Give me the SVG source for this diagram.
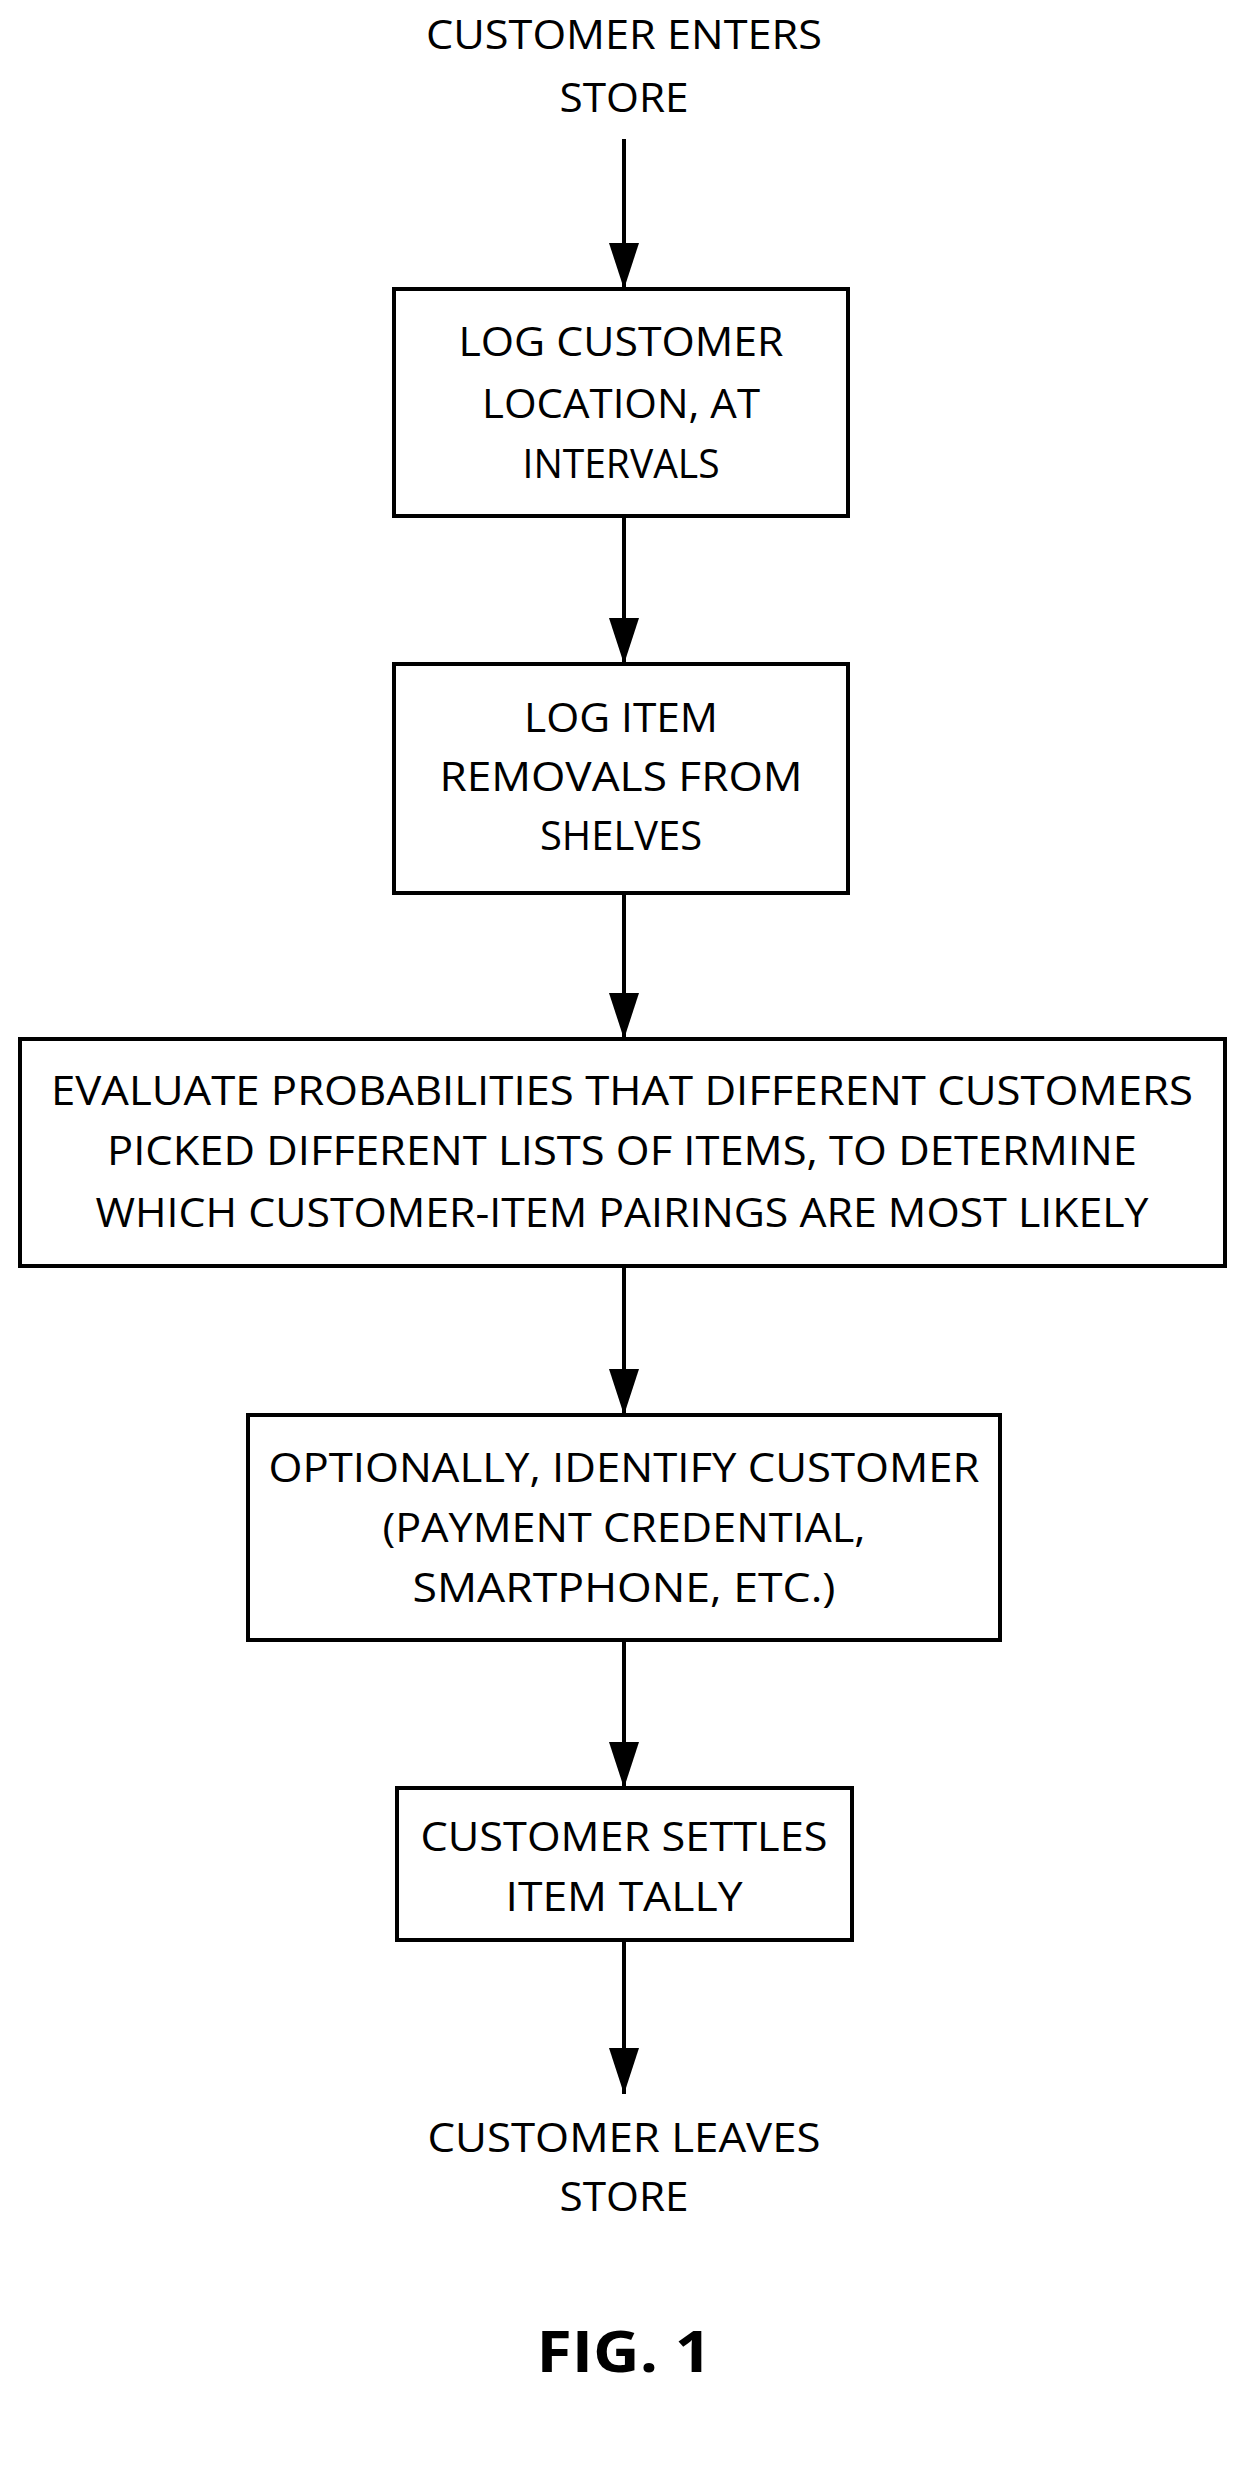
<svg xmlns="http://www.w3.org/2000/svg" width="1246" height="2473" viewBox="0 0 1246 2473">
<style>
text{font-family:"Open Sans","Liberation Sans",sans-serif;font-size:40px;fill:#000;text-anchor:middle}
.box{fill:#fff;stroke:#000;stroke-width:4}
.ln{stroke:#000;stroke-width:4;fill:none;marker-end:url(#ah)}
.fig{font-weight:bold;font-size:58px}
</style>
<defs>
<marker id="ah" markerUnits="userSpaceOnUse" markerWidth="30" markerHeight="46" refX="15" refY="46" orient="auto-start-reverse" viewBox="0 0 30 46">
<path d="M0,0 L30,0 L15,46 Z" fill="#000"/>
</marker>
</defs>
<g id="connectors">
<line class="ln" x1="624" y1="139" x2="624" y2="289" style="marker-end:none"/>
<path d="M609,243 L639,243 L624,289 Z"/>
<line x1="624" y1="516" x2="624" y2="664" stroke="#000" stroke-width="4"/>
<path d="M609,618 L639,618 L624,664 Z"/>
<line x1="624" y1="893" x2="624" y2="1039" stroke="#000" stroke-width="4"/>
<path d="M609,993 L639,993 L624,1039 Z"/>
<line x1="624" y1="1266" x2="624" y2="1415" stroke="#000" stroke-width="4"/>
<path d="M609,1369 L639,1369 L624,1415 Z"/>
<line x1="624" y1="1640" x2="624" y2="1788" stroke="#000" stroke-width="4"/>
<path d="M609,1742 L639,1742 L624,1788 Z"/>
<line x1="624" y1="1940" x2="624" y2="2094" stroke="#000" stroke-width="4"/>
<path d="M609,2048 L639,2048 L624,2094 Z"/>
</g>
<g id="start">
<text x="624" y="49" textLength="396" lengthAdjust="spacingAndGlyphs">CUSTOMER ENTERS</text>
<text x="624" y="112" textLength="129" lengthAdjust="spacingAndGlyphs">STORE</text>
</g>
<g id="n1">
<rect class="box" x="394" y="289" width="454" height="227"/>
<text x="621" y="356" textLength="325" lengthAdjust="spacingAndGlyphs">LOG CUSTOMER</text>
<text x="621" y="418" textLength="278" lengthAdjust="spacingAndGlyphs">LOCATION, AT</text>
<text x="621" y="478" textLength="197" lengthAdjust="spacingAndGlyphs">INTERVALS</text>
</g>
<g id="n2">
<rect class="box" x="394" y="664" width="454" height="229"/>
<text x="621" y="732" textLength="194" lengthAdjust="spacingAndGlyphs">LOG ITEM</text>
<text x="621" y="791" textLength="363" lengthAdjust="spacingAndGlyphs">REMOVALS FROM</text>
<text x="621" y="850" textLength="162" lengthAdjust="spacingAndGlyphs">SHELVES</text>
</g>
<g id="n3">
<rect class="box" x="20" y="1039" width="1205" height="227"/>
<text x="622" y="1105" textLength="1142" lengthAdjust="spacingAndGlyphs">EVALUATE PROBABILITIES THAT DIFFERENT CUSTOMERS</text>
<text x="622" y="1165" textLength="1030" lengthAdjust="spacingAndGlyphs">PICKED DIFFERENT LISTS OF ITEMS, TO DETERMINE</text>
<text x="622" y="1227" textLength="1053" lengthAdjust="spacingAndGlyphs">WHICH CUSTOMER-ITEM PAIRINGS ARE MOST LIKELY</text>
</g>
<g id="n4">
<rect class="box" x="248" y="1415" width="752" height="225"/>
<text x="624" y="1482" textLength="711" lengthAdjust="spacingAndGlyphs">OPTIONALLY, IDENTIFY CUSTOMER</text>
<text x="624" y="1542" textLength="483" lengthAdjust="spacingAndGlyphs">(PAYMENT CREDENTIAL,</text>
<text x="624" y="1602" textLength="423" lengthAdjust="spacingAndGlyphs">SMARTPHONE, ETC.)</text>
</g>
<g id="n5">
<rect class="box" x="397" y="1788" width="455" height="152"/>
<text x="624" y="1851" textLength="407" lengthAdjust="spacingAndGlyphs">CUSTOMER SETTLES</text>
<text x="624" y="1911" textLength="237" lengthAdjust="spacingAndGlyphs">ITEM TALLY</text>
</g>
<g id="end">
<text x="624" y="2152" textLength="393" lengthAdjust="spacingAndGlyphs">CUSTOMER LEAVES</text>
<text x="624" y="2211" textLength="129" lengthAdjust="spacingAndGlyphs">STORE</text>
</g>
<g id="fig">
<text class="fig" x="624" y="2372" textLength="175" lengthAdjust="spacingAndGlyphs">FIG. 1</text>
</g>
</svg>
